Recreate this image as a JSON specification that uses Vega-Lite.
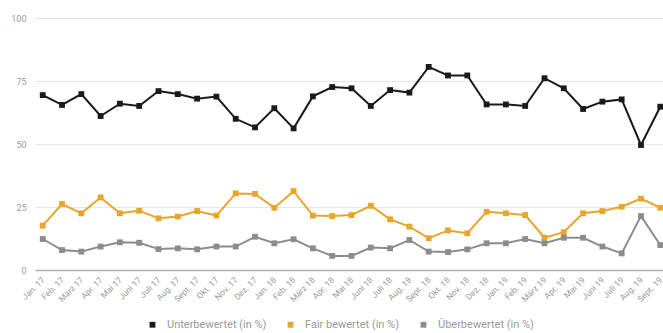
{
  "$schema": "https://vega.github.io/schema/vega-lite/v6.json",
  "autosize": "none",
  "padding": {"left": 35, "top": 18, "right": 0, "bottom": 63},
  "width": 633,
  "height": 252,
  "background": "white",
  "config": {
    "font": "Roboto",
    "view": {"stroke": null}
  },
  "data": {
    "values": [
      {"Monat": "Jan. 17", "Kategorie": "Unterbewertet (in %)", "Wert": 69.4},
      {"Monat": "Feb. 17", "Kategorie": "Unterbewertet (in %)", "Wert": 65.5},
      {"Monat": "März 17", "Kategorie": "Unterbewertet (in %)", "Wert": 69.8},
      {"Monat": "Apr. 17", "Kategorie": "Unterbewertet (in %)", "Wert": 61.1},
      {"Monat": "Mai 17", "Kategorie": "Unterbewertet (in %)", "Wert": 66},
      {"Monat": "Juni 17", "Kategorie": "Unterbewertet (in %)", "Wert": 65.1},
      {"Monat": "Juli 17", "Kategorie": "Unterbewertet (in %)", "Wert": 71},
      {"Monat": "Aug. 17", "Kategorie": "Unterbewertet (in %)", "Wert": 69.8},
      {"Monat": "Sept. 17", "Kategorie": "Unterbewertet (in %)", "Wert": 68},
      {"Monat": "Okt. 17", "Kategorie": "Unterbewertet (in %)", "Wert": 68.8},
      {"Monat": "Nov. 17", "Kategorie": "Unterbewertet (in %)", "Wert": 60},
      {"Monat": "Dez. 17", "Kategorie": "Unterbewertet (in %)", "Wert": 56.6},
      {"Monat": "Jan. 18", "Kategorie": "Unterbewertet (in %)", "Wert": 64.2},
      {"Monat": "Feb. 18", "Kategorie": "Unterbewertet (in %)", "Wert": 56.2},
      {"Monat": "März 18", "Kategorie": "Unterbewertet (in %)", "Wert": 68.9},
      {"Monat": "Apr. 18", "Kategorie": "Unterbewertet (in %)", "Wert": 72.6},
      {"Monat": "Mai 18", "Kategorie": "Unterbewertet (in %)", "Wert": 72.1},
      {"Monat": "Juni 18", "Kategorie": "Unterbewertet (in %)", "Wert": 65.1},
      {"Monat": "Juli 18", "Kategorie": "Unterbewertet (in %)", "Wert": 71.4},
      {"Monat": "Aug. 18", "Kategorie": "Unterbewertet (in %)", "Wert": 70.4},
      {"Monat": "Sept. 18", "Kategorie": "Unterbewertet (in %)", "Wert": 80.6},
      {"Monat": "Okt. 18", "Kategorie": "Unterbewertet (in %)", "Wert": 77.2},
      {"Monat": "Nov. 18", "Kategorie": "Unterbewertet (in %)", "Wert": 77.2},
      {"Monat": "Dez. 18", "Kategorie": "Unterbewertet (in %)", "Wert": 65.7},
      {"Monat": "Jan. 19", "Kategorie": "Unterbewertet (in %)", "Wert": 65.7},
      {"Monat": "Feb. 19", "Kategorie": "Unterbewertet (in %)", "Wert": 65.1},
      {"Monat": "März 19", "Kategorie": "Unterbewertet (in %)", "Wert": 76.1},
      {"Monat": "Apr. 19", "Kategorie": "Unterbewertet (in %)", "Wert": 72.1},
      {"Monat": "Mai 19", "Kategorie": "Unterbewertet (in %)", "Wert": 63.9},
      {"Monat": "Juni 19", "Kategorie": "Unterbewertet (in %)", "Wert": 66.8},
      {"Monat": "Juli 19", "Kategorie": "Unterbewertet (in %)", "Wert": 67.7},
      {"Monat": "Aug. 19", "Kategorie": "Unterbewertet (in %)", "Wert": 49.6},
      {"Monat": "Sept. 19", "Kategorie": "Unterbewertet (in %)", "Wert": 64.8},
      {"Monat": "Jan. 17", "Kategorie": "Fair bewertet (in %)", "Wert": 17.6},
      {"Monat": "Feb. 17", "Kategorie": "Fair bewertet (in %)", "Wert": 26.2},
      {"Monat": "März 17", "Kategorie": "Fair bewertet (in %)", "Wert": 22.5},
      {"Monat": "Apr. 17", "Kategorie": "Fair bewertet (in %)", "Wert": 28.8},
      {"Monat": "Mai 17", "Kategorie": "Fair bewertet (in %)", "Wert": 22.5},
      {"Monat": "Juni 17", "Kategorie": "Fair bewertet (in %)", "Wert": 23.5},
      {"Monat": "Juli 17", "Kategorie": "Fair bewertet (in %)", "Wert": 20.5},
      {"Monat": "Aug. 17", "Kategorie": "Fair bewertet (in %)", "Wert": 21.2},
      {"Monat": "Sept. 17", "Kategorie": "Fair bewertet (in %)", "Wert": 23.4},
      {"Monat": "Okt. 17", "Kategorie": "Fair bewertet (in %)", "Wert": 21.6},
      {"Monat": "Nov. 17", "Kategorie": "Fair bewertet (in %)", "Wert": 30.4},
      {"Monat": "Dez. 17", "Kategorie": "Fair bewertet (in %)", "Wert": 30.2},
      {"Monat": "Jan. 18", "Kategorie": "Fair bewertet (in %)", "Wert": 24.7},
      {"Monat": "Feb. 18", "Kategorie": "Fair bewertet (in %)", "Wert": 31.3},
      {"Monat": "März 18", "Kategorie": "Fair bewertet (in %)", "Wert": 21.6},
      {"Monat": "Apr. 18", "Kategorie": "Fair bewertet (in %)", "Wert": 21.4},
      {"Monat": "Mai 18", "Kategorie": "Fair bewertet (in %)", "Wert": 21.8},
      {"Monat": "Juni 18", "Kategorie": "Fair bewertet (in %)", "Wert": 25.5},
      {"Monat": "Juli 18", "Kategorie": "Fair bewertet (in %)", "Wert": 20.1},
      {"Monat": "Aug. 18", "Kategorie": "Fair bewertet (in %)", "Wert": 17.2},
      {"Monat": "Sept. 18", "Kategorie": "Fair bewertet (in %)", "Wert": 12.6},
      {"Monat": "Okt. 18", "Kategorie": "Fair bewertet (in %)", "Wert": 15.7},
      {"Monat": "Nov. 18", "Kategorie": "Fair bewertet (in %)", "Wert": 14.6},
      {"Monat": "Dez. 18", "Kategorie": "Fair bewertet (in %)", "Wert": 23.1},
      {"Monat": "Jan. 19", "Kategorie": "Fair bewertet (in %)", "Wert": 22.5},
      {"Monat": "Feb. 19", "Kategorie": "Fair bewertet (in %)", "Wert": 21.8},
      {"Monat": "März 19", "Kategorie": "Fair bewertet (in %)", "Wert": 12.8},
      {"Monat": "Apr. 19", "Kategorie": "Fair bewertet (in %)", "Wert": 15},
      {"Monat": "Mai 19", "Kategorie": "Fair bewertet (in %)", "Wert": 22.5},
      {"Monat": "Juni 19", "Kategorie": "Fair bewertet (in %)", "Wert": 23.4},
      {"Monat": "Juli 19", "Kategorie": "Fair bewertet (in %)", "Wert": 25.1},
      {"Monat": "Aug. 19", "Kategorie": "Fair bewertet (in %)", "Wert": 28.3},
      {"Monat": "Sept. 19", "Kategorie": "Fair bewertet (in %)", "Wert": 24.7},
      {"Monat": "Jan. 17", "Kategorie": "Überbewertet (in %)", "Wert": 12.3},
      {"Monat": "Feb. 17", "Kategorie": "Überbewertet (in %)", "Wert": 7.9},
      {"Monat": "März 17", "Kategorie": "Überbewertet (in %)", "Wert": 7.3},
      {"Monat": "Apr. 17", "Kategorie": "Überbewertet (in %)", "Wert": 9.3},
      {"Monat": "Mai 17", "Kategorie": "Überbewertet (in %)", "Wert": 11},
      {"Monat": "Juni 17", "Kategorie": "Überbewertet (in %)", "Wert": 10.8},
      {"Monat": "Juli 17", "Kategorie": "Überbewertet (in %)", "Wert": 8.3},
      {"Monat": "Aug. 17", "Kategorie": "Überbewertet (in %)", "Wert": 8.6},
      {"Monat": "Sept. 17", "Kategorie": "Überbewertet (in %)", "Wert": 8.2},
      {"Monat": "Okt. 17", "Kategorie": "Überbewertet (in %)", "Wert": 9.3},
      {"Monat": "Nov. 17", "Kategorie": "Überbewertet (in %)", "Wert": 9.3},
      {"Monat": "Dez. 17", "Kategorie": "Überbewertet (in %)", "Wert": 13.2},
      {"Monat": "Jan. 18", "Kategorie": "Überbewertet (in %)", "Wert": 10.6},
      {"Monat": "Feb. 18", "Kategorie": "Überbewertet (in %)", "Wert": 12.2},
      {"Monat": "März 18", "Kategorie": "Überbewertet (in %)", "Wert": 8.6},
      {"Monat": "Apr. 18", "Kategorie": "Überbewertet (in %)", "Wert": 5.6},
      {"Monat": "Mai 18", "Kategorie": "Überbewertet (in %)", "Wert": 5.6},
      {"Monat": "Juni 18", "Kategorie": "Überbewertet (in %)", "Wert": 8.9},
      {"Monat": "Juli 18", "Kategorie": "Überbewertet (in %)", "Wert": 8.6},
      {"Monat": "Aug. 18", "Kategorie": "Überbewertet (in %)", "Wert": 11.9},
      {"Monat": "Sept. 18", "Kategorie": "Überbewertet (in %)", "Wert": 7.3},
      {"Monat": "Okt. 18", "Kategorie": "Überbewertet (in %)", "Wert": 7.1},
      {"Monat": "Nov. 18", "Kategorie": "Überbewertet (in %)", "Wert": 8.2},
      {"Monat": "Dez. 18", "Kategorie": "Überbewertet (in %)", "Wert": 10.6},
      {"Monat": "Jan. 19", "Kategorie": "Überbewertet (in %)", "Wert": 10.6},
      {"Monat": "Feb. 19", "Kategorie": "Überbewertet (in %)", "Wert": 12.3},
      {"Monat": "März 19", "Kategorie": "Überbewertet (in %)", "Wert": 10.6},
      {"Monat": "Apr. 19", "Kategorie": "Überbewertet (in %)", "Wert": 12.8},
      {"Monat": "Mai 19", "Kategorie": "Überbewertet (in %)", "Wert": 12.8},
      {"Monat": "Juni 19", "Kategorie": "Überbewertet (in %)", "Wert": 9.3},
      {"Monat": "Juli 19", "Kategorie": "Überbewertet (in %)", "Wert": 6.6},
      {"Monat": "Aug. 19", "Kategorie": "Überbewertet (in %)", "Wert": 21.4},
      {"Monat": "Sept. 19", "Kategorie": "Überbewertet (in %)", "Wert": 9.9}
    ]
  },
  "mark": {
    "type": "line",
    "strokeWidth": 2,
    "point": {"shape": "square", "filled": true, "size": 34}
  },
  "encoding": {
    "x": {
      "field": "Monat",
      "type": "ordinal",
      "sort": null,
      "scale": {"type": "point", "padding": 0.4},
      "axis": {
        "title": null,
        "labelAngle": -45,
        "labelAlign": "right",
        "labelBaseline": "middle",
        "labelFontSize": 8.5,
        "labelColor": "#9a9a9a",
        "labelPadding": 8,
        "ticks": false,
        "domainColor": "#b0b0b0",
        "domainWidth": 1.5,
        "grid": false
      }
    },
    "y": {
      "field": "Wert",
      "type": "quantitative",
      "scale": {"domain": [0, 100]},
      "axis": {
        "title": null,
        "values": [0, 25, 50, 75, 100],
        "labelFontSize": 9,
        "labelColor": "#9a9a9a",
        "labelPadding": 9,
        "ticks": false,
        "domain": false,
        "gridColor": "#e6e6e6"
      }
    },
    "color": {
      "field": "Kategorie",
      "type": "nominal",
      "sort": ["Unterbewertet (in %)", "Fair bewertet (in %)", "Überbewertet (in %)"],
      "scale": {
        "domain": ["Unterbewertet (in %)", "Fair bewertet (in %)", "Überbewertet (in %)"],
        "range": ["#1a1a1a", "#e8a52c", "#8c8c8c"]
      },
      "legend": {
        "title": null,
        "orient": "none",
        "direction": "horizontal",
        "legendX": 112,
        "legendY": 301,
        "symbolType": "square",
        "symbolSize": 34,
        "symbolStrokeWidth": 0,
        "labelFontSize": 11,
        "labelColor": "#9a9a9a",
        "labelOffset": 9,
        "columnPadding": 18
      }
    }
  }
}
